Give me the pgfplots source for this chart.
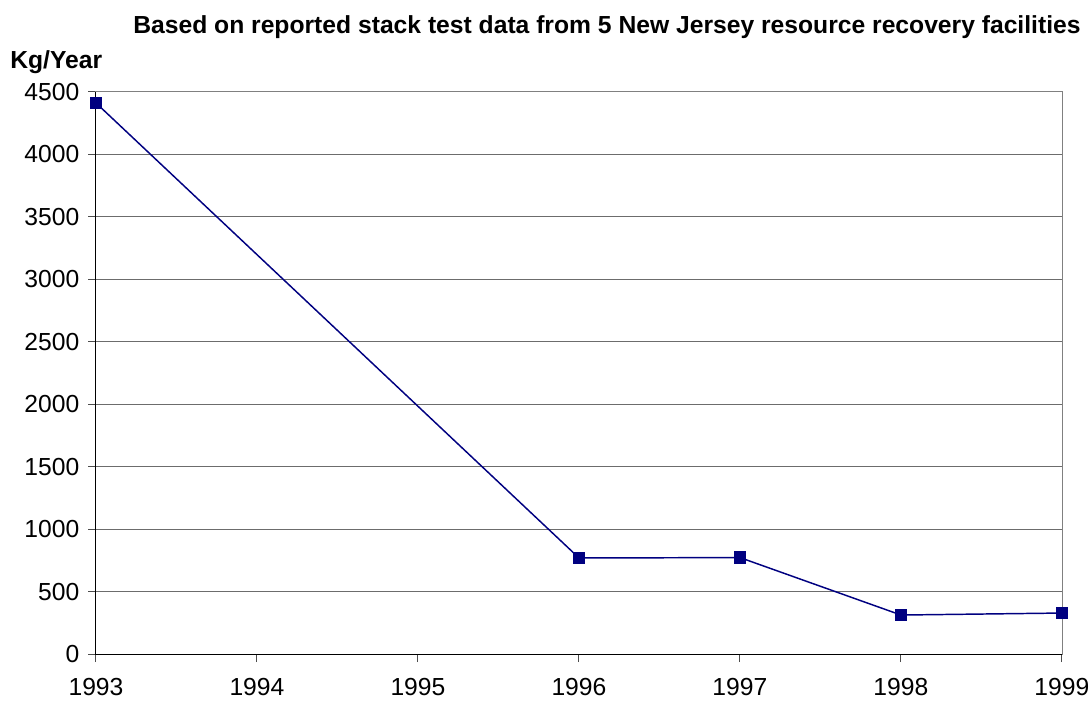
\documentclass[border=0pt]{standalone}
\usepackage{fontspec}
\setmainfont{Liberation Sans}
\usepackage{pgfplots}
\pgfplotsset{compat=1.18}
\definecolor{navy}{RGB}{0,0,128}
\begin{document}
\begin{tikzpicture}[x=0.75pt,y=0.75pt]
\path[use as bounding box] (-96,-46) rectangle (995,654);
\begin{axis}[
  at={(0pt,0pt)}, anchor=south west,
  scale only axis, width=724.5pt, height=421.5pt,
  xmin=1993, xmax=1999, ymin=0, ymax=4500,
  xtick={1993,...,1999}, ytick={0,500,...,4500},
  /pgf/number format/assume math mode=true,
  /pgf/number format/1000 sep={},
  ticklabel style={font=\fontsize{18.5}{20}\selectfont},
  tick align=outside, xtick pos=lower, ytick pos=lower,
  major tick length=6pt,
  tick style={black!70, line width=0.75pt},
  ymajorgrids, major grid style={gray!85!black, line width=0.75pt},
  axis line style={gray, line width=0.75pt},
  clip=false,
  xticklabel style={yshift=-9pt},
  yticklabel style={xshift=-3pt},
]
\addplot[navy, line width=1.1pt, mark=square*, mark size=4.1pt, mark options={fill=navy, draw=navy}]
  coordinates {(1993,4412) (1996,769) (1997,772) (1998,312) (1999,328)};
\draw[black, line width=0.75pt] (rel axis cs:0,1) -- (rel axis cs:0,0) -- (rel axis cs:1,0);
\end{axis}
\node[font=\bfseries\fontsize{18.5}{20}\selectfont] at (511,627) {Based on reported stack test data from 5 New Jersey resource recovery facilities};
\node[font=\bfseries\fontsize{18.5}{20}\selectfont, anchor=west, inner sep=0pt] at (-86,592) {Kg/Year};
\end{tikzpicture}
\end{document}
